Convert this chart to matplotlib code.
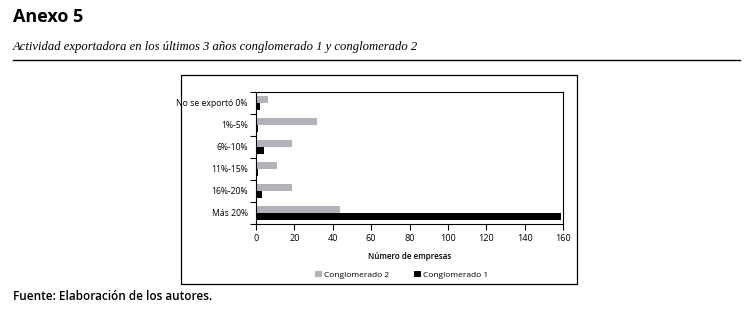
import matplotlib
matplotlib.use("Agg")
import matplotlib.pyplot as plt
import numpy as np
from matplotlib.patches import Rectangle
from matplotlib.lines import Line2D

categories = ["No se exportó 0%", "1%-5%", "6%-10%", "11%-15%", "16%-20%", "Más 20%"]
conglomerado2 = [6, 32, 19, 11, 19, 44]
conglomerado1 = [2, 1, 4, 1, 3, 159]
xticks = [0, 20, 40, 60, 80, 100, 120, 140, 160]

fig = plt.figure(figsize=(7.53, 3.23), dpi=100)
W, H = 753, 323

def fx(px): return px / W
def fy(py): return 1 - py / H

# header
fig.text(fx(13), fy(17), "Anexo 5", fontsize=13, fontweight="bold", family="Open Sans", va="center")
fig.text(fx(13), fy(47), "Actividad exportadora en los últimos 3 años conglomerado 1 y conglomerado 2",
         fontsize=9.1, style="italic", family="Liberation Serif", va="center")
fig.add_artist(Line2D([fx(13), fx(740)], [fy(60), fy(60)], color="black", lw=1))
fig.text(fx(13), fy(297), "Fuente: Elaboración de los autores.", fontsize=8.5, fontweight="semibold",
         family="Open Sans", va="center")

# chart outer box
fig.add_artist(Rectangle((fx(181), fy(284)), fx(577) - fx(181), fy(75) - fy(284),
                         fill=False, edgecolor="black", lw=0.9, transform=fig.transFigure))

ax = fig.add_axes([fx(256), fy(224), fx(563) - fx(256), fy(92) - fy(224)])
y = np.arange(len(categories))
h = 0.32
ax.barh(y - h / 2, conglomerado2, height=h, color="#b2b2ba", label="Conglomerado 2")
ax.barh(y + h / 2, conglomerado1, height=h, color="black", label="Conglomerado 1")
ax.set_ylim(len(categories) - 0.5, -0.5)
ax.set_xlim(0, 160)
ax.set_xticks(xticks)
ax.set_xticklabels([str(t) for t in xticks], fontsize=6.6, family="Open Sans")
ax.set_yticks(y)
ax.set_yticklabels(categories, fontsize=6.2, family="Open Sans")
ax.tick_params(axis="y", length=0, pad=6)
ax.set_yticks(np.arange(-0.5, len(categories), 1), minor=True)
ax.tick_params(axis="y", which="minor", length=4, width=0.8)
ax.tick_params(axis="x", length=4, width=0.8, pad=3)
for s in ax.spines.values():
    s.set_linewidth(0.8)
ax.set_xlabel("Número de empresas", fontsize=5.8, family="Open Sans", fontweight="semibold", labelpad=7)

ax.legend(loc="upper center", bbox_to_anchor=(0.475, -0.30), ncol=2, frameon=False,
          prop={"family": "Open Sans", "size": 6}, handlelength=0.8,
          handleheight=0.8, handletextpad=0.3, columnspacing=3)

fig.savefig("out.png", dpi=100)
